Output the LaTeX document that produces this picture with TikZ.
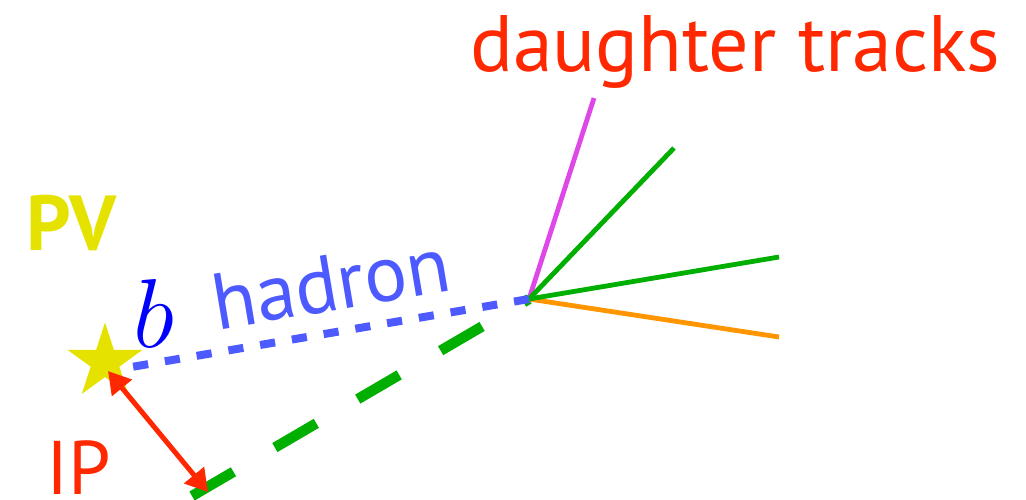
\RequirePackage{fix-cm}
\documentclass[tikz,border=0pt]{standalone}
\usepackage{fontspec}
\setmainfont{PT Sans}
\usetikzlibrary{arrows.meta,shapes.geometric}
\definecolor{DecayRed}{RGB}{255,40,0}
\definecolor{DecayYellow}{RGB}{230,226,0}
\definecolor{DecayQuark}{RGB}{0,0,255}
\definecolor{DecayHadron}{RGB}{77,90,255}
\definecolor{DecayGreen}{RGB}{0,175,0}
\definecolor{DecayMagenta}{RGB}{222,72,230}
\definecolor{DecayOrange}{RGB}{255,150,0}
\tikzset{
    decay/diagram/.style={
        x=0.5pt,
        y=-0.5pt,
        line cap=butt,
        line join=miter,
        every node/.style={inner sep=0pt, outer sep=0pt}
    },
    decay/hadron/.style={
        draw=DecayHadron, line width=4pt,
        dash pattern=on 7.6pt off 8.5pt
    },
    decay/flight/.style={
        draw=DecayGreen, line width=5.2pt,
        dash pattern=on 24pt off 24pt
    },
    decay/track/.style={line width=2.4pt},
    decay/impact/.style={
        draw=DecayRed, line width=2.5pt,
        {Triangle[length=11pt, width=12.5pt]}-{Triangle[length=11pt, width=12.5pt]}
    },
    decay/primary/.style={
        star, star points=5, star point ratio=2.618,
        fill=DecayYellow, draw=none, minimum size=39.5pt
    },
    decay/label/.style={font=\fontsize{40}{44}\selectfont, text=DecayRed},
    decay/pvlabel/.style={font=\fontsize{39}{42}\selectfont\bfseries, text=DecayYellow},
    decay/iplabel/.style={font=\fontsize{38}{42}\selectfont, text=DecayRed},
    decay/quarklabel/.style={font=\fontsize{49}{52}\selectfont, text=DecayQuark},
    decay/hadronlabel/.style={font=\fontsize{40}{44}\selectfont, text=DecayHadron}
}

\begin{document}
\begin{tikzpicture}[decay/diagram]
    \useasboundingbox (0,0) rectangle (1026,499);
    \coordinate (pvx) at (108,371);
    \coordinate (sv) at (529,299);
    \coordinate (ipend) at (208,492);
    \coordinate (flight) at (192,496);
    \coordinate (tA) at (594,98);
    \coordinate (tB) at (674,148);
    \coordinate (tC) at (779,257);
    \coordinate (tD) at (779,337);
    \draw[decay/flight] (flight) -- (sv);
    \foreach \t/\c in {tA/DecayMagenta,tD/DecayOrange,tB/DecayGreen,tC/DecayGreen} {
        \draw[decay/track, draw=\c] (sv) -- (\t);
    }
    \draw[decay/hadron] (sv) -- (pvx);
    \node[decay/primary] (pv) at (105,362) {};
    \draw[decay/impact] (pvx) -- (ipend);
    \node[decay/label, anchor=base west] (daughters) at (470,71) {daughter tracks};
    \node[decay/pvlabel, anchor=base west] (pvlabel) at (26,250) {PV};
    \node[decay/iplabel, anchor=base west] (iplabel) at (46,494) {IP};
    \node[decay/quarklabel, anchor=base west] (quark) at (133,347) {$b$};
    \node[decay/hadronlabel, anchor=base west, rotate=9.5] (hadronlabel) at (217,330) {hadron};
\end{tikzpicture}
\end{document}
